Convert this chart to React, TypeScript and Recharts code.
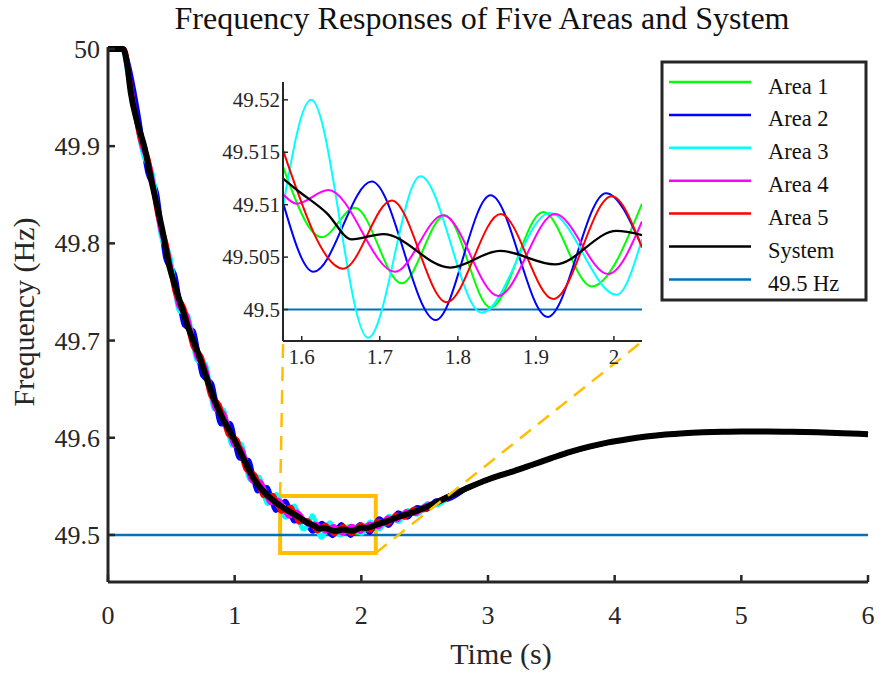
import {
  CartesianGrid,
  Line,
  LineChart,
  ReferenceArea,
  ReferenceLine,
  XAxis,
  YAxis,
} from "recharts"

const SERIF = "'Liberation Serif', 'Times New Roman', Times, serif"
const AXIS = "#262626"
const ORANGE = "#FFBF00"
const LIMIT = "#0072BD"

// [time (s), frequency (Hz)] pairs

// before the zoomed window
const systemEarly = [
  [0, 50], [0.12, 50], [0.15, 49.985], [0.18, 49.955], [0.23, 49.925], [0.29, 49.898],
  [0.34, 49.866], [0.38, 49.843], [0.43, 49.813], [0.48, 49.779], [0.53, 49.756],
  [0.59, 49.731], [0.64, 49.711], [0.7, 49.691], [0.77, 49.665], [0.84, 49.639],
  [0.89, 49.624], [0.96, 49.607], [1.02, 49.592], [1.08, 49.576], [1.15, 49.558],
  [1.22, 49.546], [1.29, 49.537], [1.35, 49.531], [1.42, 49.525], [1.5, 49.519],
]
const area1Early = [
  [0, 50], [0.12, 50], [0.15, 49.984], [0.246, 49.922], [0.306, 49.885], [0.366, 49.855],
  [0.426, 49.811], [0.486, 49.78], [0.546, 49.744], [0.606, 49.729], [0.666, 49.698],
  [0.726, 49.685], [0.786, 49.655], [0.846, 49.641], [0.906, 49.616], [0.966, 49.61],
  [1.026, 49.586], [1.086, 49.578], [1.146, 49.555], [1.206, 49.552], [1.266, 49.536],
  [1.326, 49.537], [1.386, 49.523], [1.446, 49.527], [1.506, 49.514],
]
const area2Early = [
  [0, 50], [0.12, 50], [0.15, 49.99], [0.24, 49.932], [0.31, 49.874], [0.385, 49.852],
  [0.455, 49.784], [0.53, 49.767], [0.6, 49.716], [0.675, 49.71], [0.745, 49.664],
  [0.82, 49.656], [0.89, 49.614], [0.965, 49.615], [1.035, 49.579], [1.11, 49.577],
  [1.18, 49.545], [1.255, 49.549], [1.325, 49.525], [1.4, 49.535], [1.47, 49.514],
  [1.545, 49.516],
]
const area3Early = [
  [0, 50], [0.12, 50], [0.15, 49.978], [0.21, 49.935], [0.28, 49.89], [0.35, 49.872],
  [0.42, 49.807], [0.49, 49.787], [0.56, 49.731], [0.63, 49.726], [0.7, 49.68],
  [0.77, 49.676], [0.84, 49.629], [0.91, 49.629], [0.98, 49.592], [1.05, 49.594],
  [1.12, 49.557], [1.19, 49.56], [1.26, 49.532], [1.33, 49.542], [1.4, 49.518],
  [1.47, 49.53], [1.54, 49.506],
]
const area4Early = [
  [0, 50], [0.12, 50], [0.15, 49.982], [0.27, 49.899], [0.33, 49.88], [0.415, 49.814],
  [0.475, 49.789], [0.56, 49.735], [0.62, 49.727], [0.705, 49.682], [0.765, 49.674],
  [0.85, 49.629], [0.91, 49.626], [0.995, 49.592], [1.055, 49.589], [1.14, 49.555],
  [1.2, 49.555], [1.285, 49.533], [1.345, 49.536], [1.43, 49.519], [1.49, 49.524],
]
const area5Early = [
  [0, 50], [0.13, 50], [0.18, 49.962], [0.25, 49.909], [0.32, 49.886], [0.39, 49.83],
  [0.46, 49.8], [0.53, 49.749], [0.6, 49.734], [0.67, 49.694], [0.74, 49.683],
  [0.81, 49.643], [0.88, 49.634], [0.95, 49.603], [1.02, 49.598], [1.09, 49.567],
  [1.16, 49.562], [1.23, 49.54], [1.3, 49.541], [1.37, 49.524], [1.44, 49.529],
  [1.51, 49.513],
]

// inside the zoomed window (1.576 - 2.036 s)
const systemZoom = [
  [1.576, 49.5125], [1.594, 49.5114], [1.632, 49.5092], [1.664, 49.5067], [1.7045, 49.5072],
  [1.79, 49.504], [1.854, 49.5056], [1.9245, 49.5043], [2.0035, 49.5075], [2.036, 49.5071],
]
const area1Zoom = [
  [1.576, 49.5136], [1.6256, 49.5069], [1.668, 49.5097], [1.728, 49.5025], [1.7836, 49.509],
  [1.842, 49.5002], [1.9095, 49.5093], [1.9715, 49.5022], [2.036, 49.5101],
]
const area2Zoom = [
  [1.576, 49.5102], [1.615, 49.5036], [1.6897, 49.5122], [1.7716, 49.499], [1.842, 49.5109],
  [1.915, 49.4993], [1.9898, 49.5111], [2.036, 49.506],
]
const area3Zoom = [
  [1.576, 49.5098], [1.612, 49.52], [1.685, 49.4973], [1.752, 49.5127], [1.8306, 49.4997],
  [1.918, 49.5092], [2.0035, 49.5014], [2.036, 49.5067],
]
const area4Zoom = [
  [1.576, 49.511], [1.5936, 49.5101], [1.634, 49.5114], [1.7195, 49.5036], [1.7812, 49.509],
  [1.8518, 49.5013], [1.9245, 49.5091], [1.9927, 49.5034], [2.036, 49.5084],
]
const area5Zoom = [
  [1.576, 49.5152], [1.6533, 49.5039], [1.7153, 49.5104], [1.7857, 49.5007], [1.8549, 49.5091],
  [1.9223, 49.501], [1.9971, 49.5108], [2.036, 49.5059],
]

// after the zoomed window
const systemLate = [
  [2.1, 49.5095], [2.15, 49.512], [2.2, 49.514], [2.3, 49.519], [2.4, 49.523],
  [2.5, 49.528], [2.6, 49.534], [2.7, 49.54], [2.85, 49.549],
]
const area1Late = [
  [2.1, 49.5065], [2.16, 49.5145], [2.22, 49.511], [2.28, 49.521], [2.34, 49.518],
  [2.4, 49.5245], [2.5, 49.5265], [2.6, 49.5345], [2.75, 49.5435], [2.85, 49.549],
]
const area2Late = [
  [2.065, 49.502], [2.14, 49.517], [2.215, 49.5095], [2.29, 49.523], [2.365, 49.518],
  [2.44, 49.5285], [2.515, 49.526], [2.59, 49.5355], [2.665, 49.536], [2.85, 49.549],
]
const area3Late = [
  [2.07, 49.5135], [2.145, 49.506], [2.22, 49.5195], [2.295, 49.5135], [2.37, 49.5255],
  [2.445, 49.521], [2.52, 49.5325], [2.595, 49.5305], [2.7, 49.5405], [2.85, 49.5495],
]
const area4Late = [
  [2.065, 49.5115], [2.135, 49.508], [2.21, 49.518], [2.28, 49.515], [2.355, 49.5245],
  [2.425, 49.5215], [2.5, 49.53], [2.6, 49.533], [2.75, 49.543], [2.85, 49.549],
]
const area5Late = [
  [2.065, 49.5045], [2.135, 49.5145], [2.205, 49.511], [2.275, 49.521], [2.345, 49.518],
  [2.415, 49.527], [2.485, 49.5255], [2.6, 49.5345], [2.75, 49.5435], [2.85, 49.549],
]
// all curves merge from here on
const systemTail = [
  [3, 49.557], [3.1, 49.5615], [3.2, 49.5655], [3.35, 49.5722], [3.5, 49.579],
  [3.65, 49.5855], [3.8, 49.5908], [3.95, 49.5952], [4.1, 49.5985], [4.25, 49.6012],
  [4.4, 49.6033], [4.55, 49.6047], [4.7, 49.6056], [4.85, 49.6062], [5, 49.6065],
  [5.2, 49.6065], [5.4, 49.6062], [5.6, 49.6056], [5.8, 49.6047], [6, 49.6037],
]

const seriesNames = ["Area 1", "Area 2", "Area 3", "Area 4", "Area 5", "System"]
const seriesColors = ["#00FF00", "#0000FF", "#00FFFF", "#FF00FF", "#FF0000", "#000000"]
const limitName = "49.5 Hz"
const limitValue = 49.5

const mainXTicks = [0, 1, 2, 3, 4, 5, 6]
const mainYTicks = [49.5, 49.6, 49.7, 49.8, 49.9, 50]
const zoomXTicks = [1.6, 1.7, 1.8, 1.9, 2]
const zoomYTicks = [49.5, 49.505, 49.51, 49.515, 49.52]

// zoom window in data units: box on main plot, and inset axis range
const zoomBox = { x1: 1.359, x2: 2.114, y1: 49.4815, y2: 49.54 }
const insetCorners = { left: 1.3825, right: 4.219, bottom: 49.6992 }

const toPoints = (rows: number[][]) => rows.map(([t, f]) => ({ t, f }))

const mainSeries = [
  [...area1Early, ...area1Zoom, ...area1Late, ...systemTail],
  [...area2Early, ...area2Zoom, ...area2Late, ...systemTail],
  [...area3Early, ...area3Zoom, ...area3Late, ...systemTail],
  [...area4Early, ...area4Zoom, ...area4Late, ...systemTail],
  [...area5Early, ...area5Zoom, ...area5Late, ...systemTail],
  [...systemEarly, ...systemZoom, ...systemLate, ...systemTail],
].map(toPoints)

const zoomSeries = [area1Zoom, area2Zoom, area3Zoom, area4Zoom, area5Zoom, systemZoom].map(toPoints)

const textStyle = { fontFamily: SERIF }

const MainXTick = ({ x, y, payload }: any) => (
  <g>
    <line x1={x} y1={y} x2={x} y2={y - 7} stroke={AXIS} strokeWidth={2.5} />
    <text x={x} y={y + 42} textAnchor="middle" style={textStyle} fontSize={26} fill={AXIS}>
      {payload.value}
    </text>
  </g>
)

const MainYTick = ({ x, y, payload }: any) => (
  <g>
    <line x1={x} y1={y} x2={x + 7} y2={y} stroke={AXIS} strokeWidth={2.5} />
    <text x={x - 8} y={y + 9} textAnchor="end" style={textStyle} fontSize={26} fill={AXIS}>
      {payload.value}
    </text>
  </g>
)

const ZoomXTick = ({ x, y, payload }: any) => (
  <g>
    <line x1={x} y1={y} x2={x} y2={y - 5} stroke={AXIS} strokeWidth={1.5} />
    <text x={x} y={y + 23} textAnchor="middle" style={textStyle} fontSize={21} fill={AXIS}>
      {payload.value}
    </text>
  </g>
)

const ZoomYTick = ({ x, y, payload }: any) => (
  <g>
    <line x1={x} y1={y} x2={x + 5} y2={y} stroke={AXIS} strokeWidth={1.5} />
    <text x={x - 3} y={y + 7} textAnchor="end" style={textStyle} fontSize={21} fill={AXIS}>
      {payload.value}
    </text>
  </g>
)

export default function App() {
  return (
    <div style={{ position: "absolute", left: 0, top: 0, width: 883, height: 673, background: "#fff" }}>
      <LineChart width={883} height={673} margin={{ top: 47, right: 15, bottom: 61, left: 48 }}>
        <XAxis
          type="number"
          dataKey="t"
          domain={[0, 6]}
          ticks={mainXTicks}
          height={30}
          tickSize={0}
          tickMargin={0}
          tickLine={false}
          axisLine={{ stroke: AXIS, strokeWidth: 3 }}
          tick={(p: any) => <MainXTick {...p} />}
        />
        <YAxis
          type="number"
          domain={[49.4516, 50.002]}
          ticks={mainYTicks}
          width={60}
          tickSize={0}
          tickMargin={0}
          tickLine={false}
          axisLine={{ stroke: AXIS, strokeWidth: 3 }}
          tick={(p: any) => <MainYTick {...p} />}
        />
        <ReferenceLine y={limitValue} stroke={LIMIT} strokeWidth={2.5} />
        {mainSeries.map((d, i) => (
          <Line
            key={seriesNames[i]}
            name={seriesNames[i]}
            data={d}
            dataKey="f"
            type="monotone"
            stroke={seriesColors[i]}
            strokeWidth={i === 5 ? 6 : 4.5}
            dot={false}
            isAnimationActive={false}
          />
        ))}
        <ReferenceArea
          x1={zoomBox.x1}
          x2={zoomBox.x2}
          y1={zoomBox.y1}
          y2={zoomBox.y2}
          fill="none"
          stroke={ORANGE}
          strokeWidth={4}
        />
        <ReferenceLine
          segment={[
            { x: zoomBox.x1, y: zoomBox.y2 },
            { x: insetCorners.left, y: insetCorners.bottom },
          ]}
          stroke={ORANGE}
          strokeWidth={2.5}
          strokeDasharray="14 9"
        />
        <ReferenceLine
          segment={[
            { x: zoomBox.x2, y: zoomBox.y1 },
            { x: insetCorners.right, y: insetCorners.bottom },
          ]}
          stroke={ORANGE}
          strokeWidth={2.5}
          strokeDasharray="14 9"
        />
      </LineChart>

      <div style={{ position: "absolute", left: 183, top: 72 }}>
        <LineChart width={469} height={309} margin={{ top: 10, right: 10, bottom: 10, left: 40 }}>
          <CartesianGrid horizontal={false} vertical={false} fill="#fff" fillOpacity={1} />
          <XAxis
            type="number"
            dataKey="t"
            domain={[1.576, 2.036]}
            ticks={zoomXTicks}
            allowDataOverflow
            height={30}
            tickSize={0}
            tickMargin={0}
            tickLine={false}
            axisLine={{ stroke: AXIS, strokeWidth: 2 }}
            tick={(p: any) => <ZoomXTick {...p} />}
          />
          <YAxis
            type="number"
            domain={[49.497, 49.5217]}
            ticks={zoomYTicks}
            allowDataOverflow
            width={60}
            tickSize={0}
            tickMargin={0}
            tickLine={false}
            axisLine={{ stroke: AXIS, strokeWidth: 2 }}
            tick={(p: any) => <ZoomYTick {...p} />}
          />
          <ReferenceLine y={limitValue} stroke={LIMIT} strokeWidth={2} />
          {zoomSeries.map((d, i) => (
            <Line
              key={seriesNames[i]}
              name={seriesNames[i]}
              data={d}
              dataKey="f"
              type="monotone"
              stroke={seriesColors[i]}
              strokeWidth={i === 5 ? 2.3 : 2}
              dot={false}
              isAnimationActive={false}
            />
          ))}
        </LineChart>
      </div>

      <svg
        width={883}
        height={673}
        style={{ position: "absolute", left: 0, top: 0, pointerEvents: "none", fontFamily: SERIF }}
      >
        <text x={482} y={29} textAnchor="middle" style={textStyle} fontSize={32} fill="#111">
          Frequency Responses of Five Areas and System
        </text>
        <text x={501} y={664} textAnchor="middle" style={textStyle} fontSize={30} fill={AXIS}>
          Time (s)
        </text>
        <text
          transform="translate(34 312) rotate(-90)"
          textAnchor="middle"
          style={textStyle}
          fontSize={30}
          fill={AXIS}
        >
          Frequency (Hz)
        </text>

        <rect x={662} y={62} width={204} height={238} fill="#fff" stroke={AXIS} strokeWidth={3} />
        {[...seriesNames, limitName].map((name, i) => {
          const y = 82 + i * 32.9
          const color = i < seriesColors.length ? seriesColors[i] : LIMIT
          return (
            <g key={name}>
              <line x1={669} y1={y} x2={751} y2={y} stroke={color} strokeWidth={2.5} />
              <text x={768} y={y + 11.5} style={textStyle} fontSize={22.5} fill="#111">
                {name}
              </text>
            </g>
          )
        })}
      </svg>
    </div>
  )
}
